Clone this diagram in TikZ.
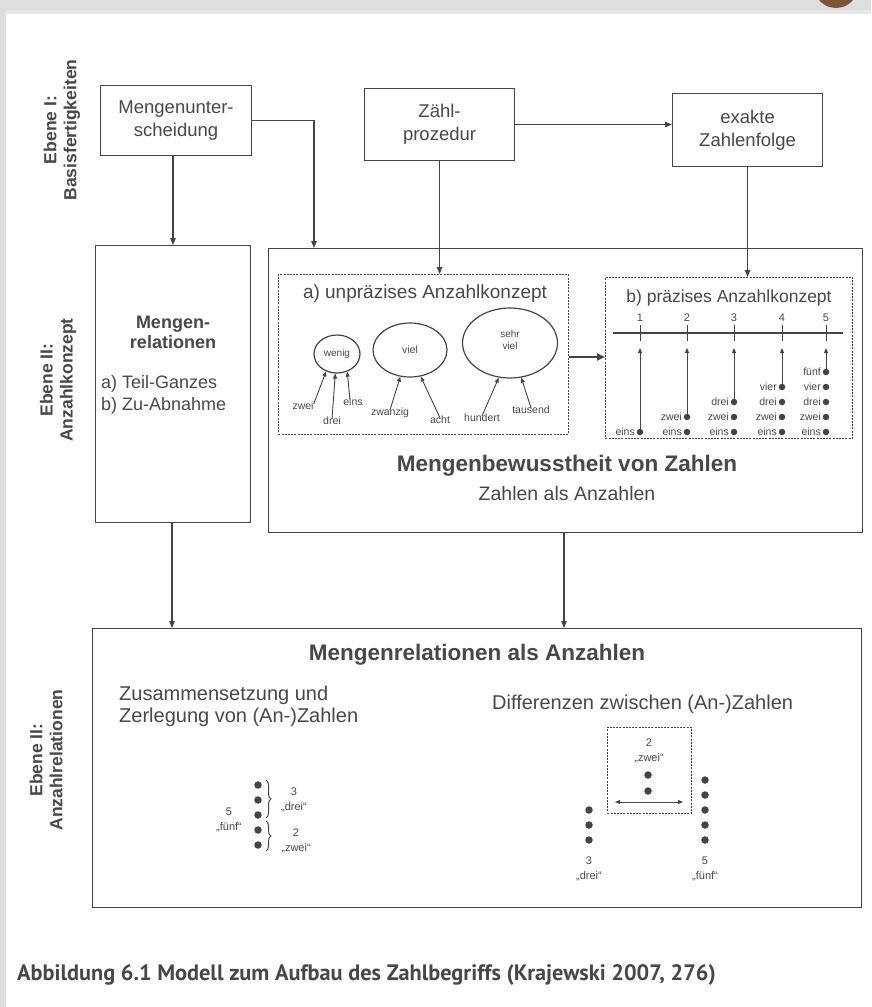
\documentclass[tikz,border=0pt]{standalone}
\usepackage{fontspec}
\setmainfont{Liberation Sans}
\newfontfamily\capfont{PT Sans}
\usetikzlibrary{arrows.meta,calc,shapes.geometric,decorations.pathreplacing}
\definecolor{ink}{RGB}{68,68,68}
\definecolor{txt}{RGB}{72,72,72}
\definecolor{band}{RGB}{222,222,222}
\definecolor{brownish}{RGB}{128,84,56}
\tikzset{
  box/.style={draw=ink, line width=1.1pt, inner sep=0pt, anchor=north west},
  dbox/.style={draw=ink, line width=0.9pt, dash pattern=on 2pt off 1.2pt, inner sep=0pt, anchor=north west},
  lbl/.style={text=txt, inner sep=0pt, align=center, font=\fontsize{18.5}{23}\selectfont},
  side/.style={text=txt, inner sep=0pt, align=center, rotate=90, font=\bfseries\fontsize{17.5}{20}\selectfont},
  head/.style={text=txt, inner sep=0pt, font=\bfseries\fontsize{22.5}{26}\selectfont},
  sub/.style={text=txt, inner sep=0pt, align=left, font=\fontsize{20}{21.5}\selectfont},
  tiny/.style={text=txt, inner sep=0pt, font=\fontsize{10.5}{12}\selectfont},
  arr/.style={draw=ink, line width=1.1pt, -{Triangle[length=7pt,width=5.5pt]}},
  thin/.style={draw=ink, line width=0.9pt, -{Triangle[length=5pt,width=4pt]}},
  ell/.style={draw=ink, line width=1.2pt, ellipse, inner sep=0pt},
  dot/.style={circle, fill=ink, inner sep=0pt, minimum size=7.5pt},
}
\begin{document}
\begin{tikzpicture}[x=1pt,y=-1pt]
\useasboundingbox (0,0) rectangle (871,1007);
\fill[white] (0,0) rectangle (871,1007);
% scan borders
\fill[band] (0,0) rectangle (871,10);
\fill[band!70!white] (0,10) rectangle (871,14);
\fill[band] (0,0) rectangle (6,1007);
\begin{scope}
\clip (0,0) rectangle (871,1007);
\fill[brownish] (836,-14) circle (22);
\end{scope}

% side labels
\node[side] (e1) at (62,130) {Ebene I:\\Basisfertigkeiten};
\node[side] (e2) at (58,380) {Ebene II:\\Anzahlkonzept};
\node[side] (e3) at (46,760) {Ebene II:\\Anzahlrelationen};

% top row
\node[box, minimum width=151pt, minimum height=70pt] (b1) at (100,85) {};
\node[lbl] (b1t) at (b1.center) {Mengenunter-\\scheidung};
\node[box, minimum width=150pt, minimum height=72pt] (b2) at (364,88) {};
\node[lbl] (b2t) at (b2.center) {Zähl-\\prozedur};
\node[box, minimum width=150pt, minimum height=73pt] (b3) at (672,93) {};
\node[lbl] (b3t) at (b3.center) {exakte\\Zahlenfolge};

% level II boxes
\node[box, minimum width=155pt, minimum height=277pt] (rel) at (95,245) {};
\node[text=txt, inner sep=0pt, align=center, font=\bfseries\fontsize{18}{20}\selectfont] (relt) at (173,332) {Mengen-\\relationen};
\node[text=txt, inner sep=0pt, align=left, font=\fontsize{18}{22.5}\selectfont, anchor=west] (relab) at (101,395) {a) Teil-Ganzes\\b) Zu-Abnahme};

\node[box, minimum width=594pt, minimum height=284pt] (big) at (268,248) {};
\node[dbox, minimum width=290pt, minimum height=160pt] (ba) at (278,274) {};
\node[dbox, minimum width=247pt, minimum height=161pt] (bb) at (605,277) {};
\node[text=txt, inner sep=0pt, font=\fontsize{19}{22}\selectfont] (bat) at (425,294) {a) unpräzises Anzahlkonzept};
\node[text=txt, inner sep=0pt, font=\fontsize{17.5}{20}\selectfont] (bbt) at (729,298) {b) präzises Anzahlkonzept};
\node[head] (bigt) at (567,466) {Mengenbewusstheit von Zahlen};
\node[text=txt, inner sep=0pt, font=\fontsize{19.5}{22}\selectfont] (bigs) at (567,494) {Zahlen als Anzahlen};

% a) ellipses
\node[ell, minimum width=46pt, minimum height=38pt] (wenig) at (337,354) {};
\node[tiny, font=\fontsize{10}{12}\selectfont] at (wenig.center) {wenig};
\node[ell, minimum width=74pt, minimum height=54pt] (viel) at (410,350) {};
\node[tiny] at (viel.center) {viel};
\node[ell, minimum width=95pt, minimum height=70pt] (sviel) at (510,343) {};
\node[tiny, align=center, font=\fontsize{10}{12}\selectfont] at (510,340) {sehr\\viel};
\node[tiny] (zwei) at (303,406) {zwei};
\node[tiny] (drei) at (332,421) {drei};
\node[tiny] (eins) at (353,402) {eins};
\node[tiny] (zwanzig) at (390,413) {zwanzig};
\node[tiny] (acht) at (440,420) {acht};
\node[tiny] (hundert) at (482,418) {hundert};
\node[tiny] (tausend) at (531,410) {tausend};
\draw[thin] ([yshift=-2pt]zwei.north east) -- (wenig.238);
\draw[thin] ([yshift=-2pt]drei.north) -- (wenig.265);
\draw[thin] ([xshift=-3pt,yshift=-2pt]eins.north) -- (wenig.300);
\draw[thin] ([yshift=-2pt]zwanzig.north) -- (viel.250);
\draw[thin] ([yshift=-2pt]acht.north) -- (viel.292);
\draw[thin] ([yshift=-2pt]hundert.north) -- (sviel.252);
\draw[thin] ([yshift=-2pt]tausend.north) -- (sviel.288);

% b) number line
\coordinate (axl) at (613,333);
\coordinate (axr) at (843,333);
\draw[ink, line width=1.2pt] (axl) -- (axr);
\foreach \i/\x/\w in {1/640/eins,2/687/zwei,3/734/drei,4/782/vier,5/826/fünf}{
  \node[tiny, font=\fontsize{11}{12}\selectfont] (n\i) at (\x,318) {\i};
  \draw[ink, line width=0.9pt] (\x,325) -- (\x,341);
  \coordinate (t\i) at (\x,348);
}
\foreach \c/\x in {1/640,2/687,3/734,4/782,5/826}{
  \foreach \r/\y/\w in {1/432/eins,2/417/zwei,3/402/drei,4/387/vier,5/372/fünf}{
    \ifnum\r>\c\else
      \node[dot, minimum size=6.5pt] (d\c\r) at (\x,\y) {};
      \node[tiny, font=\fontsize{10.5}{11}\selectfont, anchor=east] at (\x-5,\y) {\w};
    \fi
  }
}
\draw[thin] (d11) -- (t1);
\draw[thin] (d22) -- (t2);
\draw[thin] (d33) -- (t3);
\draw[thin] (d44) -- (t4);
\draw[thin] (d55) -- (t5);

% bottom box
\node[box, minimum width=769pt, minimum height=279pt] (bot) at (92,628) {};
\node[head] (bott) at (477,655) {Mengenrelationen als Anzahlen};
\node[sub, anchor=north west] (botl) at (119,686) {Zusammensetzung und\\Zerlegung von (An-)Zahlen};
\node[sub, anchor=west] (botr) at (492,704) {Differenzen zwischen (An-)Zahlen};

% left example
\foreach \k/\y in {1/785,2/800,3/815,4/830,5/845}{\node[dot] (l\k) at (258,\y) {};}
\node[tiny, align=center, font=\fontsize{11}{15}\selectfont] (l5t) at (229,820) {5\\„fünf“};
\draw[ink, line width=1pt, decorate, decoration={brace, amplitude=5pt}] (266,780) -- (266,818);
\draw[ink, line width=1pt, decorate, decoration={brace, amplitude=5pt}] (266,821) -- (266,851);
\node[tiny, align=center, font=\fontsize{11}{15}\selectfont] (l3t) at (294,800) {3\\„drei“};
\node[tiny, align=center, font=\fontsize{11}{15}\selectfont] (l2t) at (296,841) {2\\„zwei“};

% right example
\node[dbox, minimum width=84pt, minimum height=86pt] (diff) at (607,727) {};
\node[tiny, align=center, font=\fontsize{11}{15}\selectfont] (r2t) at (649,751) {2\\„zwei“};
\node[dot] (r21) at (648,775) {};
\node[dot] (r22) at (648,791) {};
\coordinate (dl) at (615,802);
\coordinate (dr) at (683,802);
\draw[ink, line width=0.9pt, {Triangle[length=5pt,width=4pt]}-{Triangle[length=5pt,width=4pt]}] (dl) -- (dr);
\foreach \k/\y in {1/810,2/825,3/840}{\node[dot] (ra\k) at (589,\y) {};}
\foreach \k/\y in {1/780,2/795,3/810,4/825,5/840}{\node[dot] (rb\k) at (705,\y) {};}
\node[tiny, align=center, font=\fontsize{11}{15}\selectfont] (r3t) at (589,869) {3\\„drei“};
\node[tiny, align=center, font=\fontsize{11}{15}\selectfont] (r5t) at (705,869) {5\\„fünf“};

% connectors
\draw[arr] (b2.east) -- (b3.west |- b2.east);
\draw[arr] (b1.south -| 173,0) -- (173,0 |- rel.north);
\draw[arr] (b1.east) -| ($(big.north west)+(46,0)$);
\draw[arr] (b2.south) -- (b2.south |- ba.north);
\draw[arr] (b3.south) -- (b3.south |- bb.north);
\draw[ink, line width=2.4pt, -{Triangle[length=8pt,width=7pt]}] (ba.east |- 0,357) -- (bb.west |- 0,357);
\draw[arr] (rel.south -| 172,0) -- (172,0 |- bot.north);
\draw[arr] (big.south -| 564,0) -- (564,0 |- bot.north);

% caption
\node[text=black!72, inner sep=0pt, anchor=west, font=\capfont\bfseries\fontsize{22.3}{26}\selectfont] (cap) at (17,975) {Abbildung 6.1 Modell zum Aufbau des Zahlbegriffs (Krajewski 2007, 276)};
\end{tikzpicture}
\end{document}
